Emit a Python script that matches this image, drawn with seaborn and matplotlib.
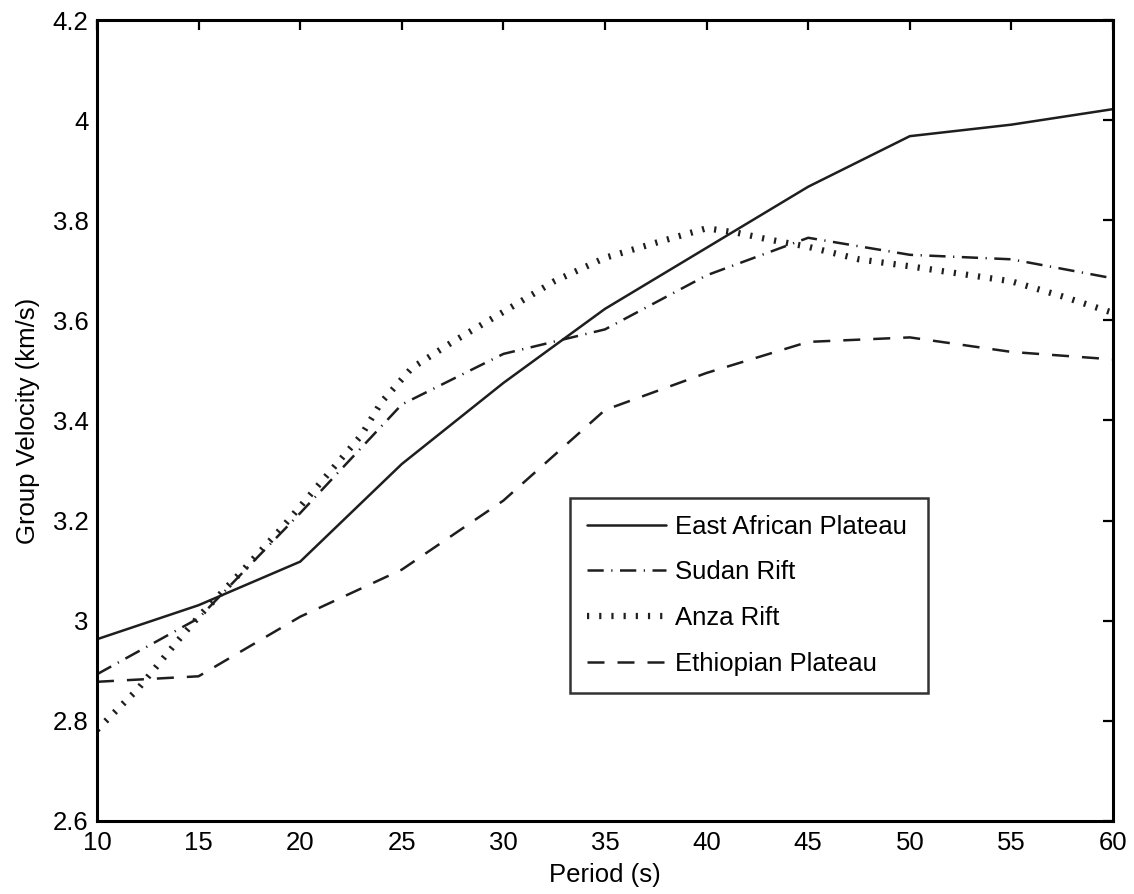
import seaborn as sns
import matplotlib.pyplot as plt
import pandas as pd
import numpy as np

# periods (s)
period = [10, 15, 20, 25, 30, 35, 40, 45, 50, 55, 60]
east_african = [2.963, 3.031, 3.118, 3.313, 3.475, 3.623, 3.745, 3.867, 3.968, 3.991, 4.022]
sudan_rift = [2.893, 3.005, 3.215, 3.432, 3.533, 3.582, 3.690, 3.765, 3.731, 3.722, 3.684]
ethiopian = [2.878, 2.889, 3.008, 3.102, 3.240, 3.421, 3.495, 3.557, 3.566, 3.537, 3.522]

# Anza Rift is sampled more finely
anza_period = [10, 12, 14, 15, 17, 19, 20.5, 23, 24, 25.5, 27.5, 30, 32.5, 35, 37.5,
               40, 41.5, 43, 45, 47.5, 50, 52.5, 55, 57.5, 60]
anza_rift = [2.782, 2.863, 2.961, 3.008, 3.093, 3.181, 3.252, 3.370, 3.437, 3.505, 3.557,
             3.617, 3.678, 3.725, 3.755, 3.784, 3.775, 3.762, 3.747, 3.722, 3.708, 3.693,
             3.678, 3.648, 3.615]

sns.set_theme(style="white")
plt.rcParams['font.family'] = ['Liberation Sans', 'DejaVu Sans']
plt.rcParams['text.color'] = 'black'

fig = plt.figure(figsize=(11.34, 8.94), dpi=100)
ax = fig.add_axes([0.0855, 0.0817, 0.896, 0.8959])

ink = "#1e1e1e"
fs = 18.5
sns.lineplot(x=period, y=east_african, ax=ax, color=ink, linewidth=1.8,
             linestyle="-", label="East African Plateau")
sns.lineplot(x=period, y=sudan_rift, ax=ax, color=ink, linewidth=1.8,
             linestyle=(0, (6.5, 3.0, 0.5, 3.0)), label="Sudan Rift")
sns.lineplot(x=anza_period, y=anza_rift, ax=ax, color=ink, linewidth=4.5,
             linestyle=(0, (0.35, 1.6)), label="Anza Rift")
sns.lineplot(x=period, y=ethiopian, ax=ax, color=ink, linewidth=1.8,
             linestyle=(0, (6.8, 5.2)), label="Ethiopian Plateau")

ax.set_xlim(10, 60)
ax.set_ylim(2.6, 4.2)
ax.set_xticks(np.arange(10, 61, 5))
ax.set_yticks(np.round(np.arange(2.6, 4.21, 0.2), 1))
ax.set_yticklabels(["2.6", "2.8", "3", "3.2", "3.4", "3.6", "3.8", "4", "4.2"])

for s in ax.spines.values():
    s.set_color("black")
    s.set_linewidth(2.2)
ax.tick_params(direction="in", length=7, width=1.6, colors="black",
               top=True, right=True, labelsize=fs)
ax.tick_params(axis="x", pad=7)
ax.tick_params(axis="y", pad=6)

ax.set_xlabel("Period (s)", fontsize=fs, labelpad=6, color="black")
ax.set_ylabel("Group Velocity (km/s)", fontsize=fs, labelpad=9, color="black")

leg = ax.legend(loc="lower left", bbox_to_anchor=(0.4655, 0.16, 0.352, 0.248),
                mode="expand", fontsize=fs, frameon=True, fancybox=False,
                handlelength=3.1, handletextpad=0.35, borderpad=0.65,
                labelspacing=0.85, borderaxespad=0, labelcolor="black")
leg.get_frame().set_edgecolor("black")
leg.get_frame().set_linewidth(1.8)

fig.savefig("out.png", dpi=100)
